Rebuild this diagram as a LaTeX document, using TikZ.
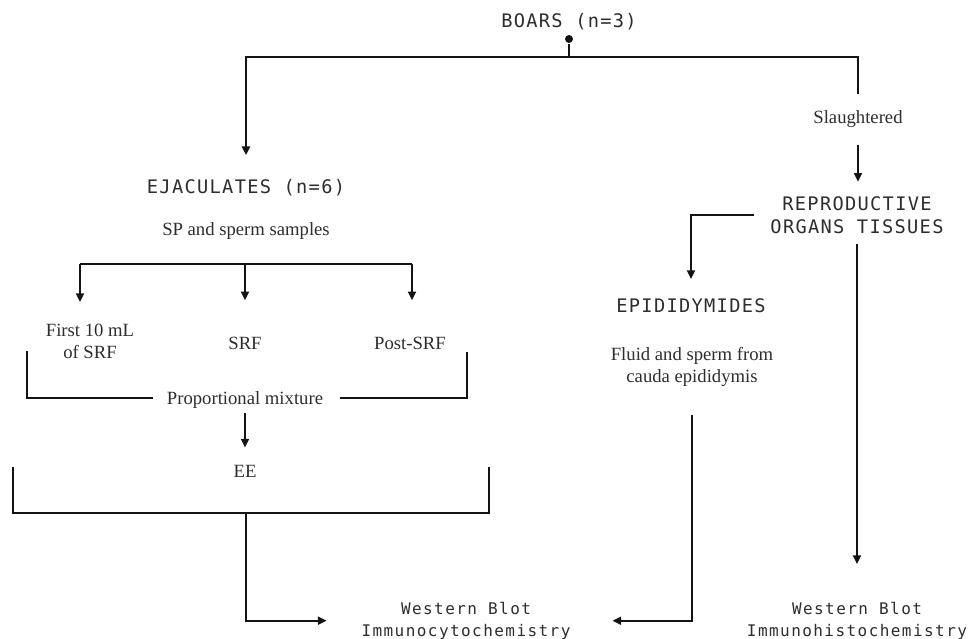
\documentclass[tikz,border=0pt]{standalone}
\usepackage{fontspec}
\setmainfont{Liberation Serif}
\newfontfamily\boxmono[LetterSpace=7]{DejaVu Sans Mono}
\newfontfamily\boxmonosm[LetterSpace=9]{DejaVu Sans Mono}
\usepackage{tikz}
\usetikzlibrary{calc,arrows.meta,positioning}
\definecolor{FlowBlack}{RGB}{20, 20, 20}
\definecolor{LabelGray}{RGB}{45, 45, 45}

\begin{document}
\begin{tikzpicture}[x=0.75pt, y=-0.75pt, line width=1.4pt, FlowBlack,
    arr/.style={-{Triangle[length=6.5pt, width=6pt]}},
    ttl/.style={font=\boxmono\fontsize{14pt}{17.25pt}\selectfont, text=LabelGray, inner sep=0pt,
        text height=10.2pt, text depth=0pt, anchor=base},
    ttlml/.style={font=\boxmono\fontsize{14pt}{17.25pt}\selectfont, text=LabelGray, inner sep=0pt, align=center},
    sml/.style={font=\boxmonosm\fontsize{12pt}{16.5pt}\selectfont, text=LabelGray, inner sep=0pt, align=center, anchor=north},
    lab/.style={font=\fontsize{14pt}{16.5pt}\selectfont, text=LabelGray, inner sep=0pt,
        text height=9.17pt, text depth=0pt, anchor=base},
    labml/.style={font=\fontsize{14pt}{16.5pt}\selectfont, text=LabelGray, inner sep=0pt, align=center, anchor=north},
    dot/.style={circle, fill, inner sep=0pt, minimum size=6pt}]
    \useasboundingbox (0,0) rectangle (972,639);

    \node[ttl] (boars) at (569,27) {BOARS (n=3)};
    \node[dot] (pin) at (569,39) {};
    \coordinate (split) at (569,57);
    \draw (pin) -- (split);

    % ejaculates branch
    \node[ttl] (ejac) at (246,193) {EJACULATES (n=6)};
    \node[lab] (sp) at (246,235) {SP and sperm samples};
    \coordinate (b1) at (80,264);
    \coordinate (b2) at (245,264);
    \coordinate (b3) at (412,264);
    \node[labml] (first) at (90,323) {First 10 mL\\of SRF};
    \node[lab] (srf) at (245,349) {SRF};
    \node[lab] (post) at (410,349) {Post-SRF};
    \node[lab] (mix) at (245,404) {Proportional mixture};
    \coordinate (brl) at (27,351);
    \coordinate (brr) at (467,352);
    \node[lab] (ee) at (245,477) {EE};
    \coordinate (bbl) at (13,467);
    \coordinate (bbr) at (489,467);
    \coordinate (bbm) at (246,513);
    \node[sml] (wbic) at (466,601) {Western Blot\\Immunocytochemistry};

    % tissues branch
    \node[lab] (slaught) at (858,123) {Slaughtered};
    \node[ttlml] (repro) at (857,215) {REPRODUCTIVE\\ORGANS TISSUES};
    \node[ttl] (epid) at (691,312) {EPIDIDYMIDES};
    \node[labml] (fluid) at (692,346) {Fluid and sperm from\\cauda epididymis};
    \node[sml] (wbih) at (857,601) {Western Blot\\Immunohistochemistry};

    \draw[arr, shorten >=17.5pt] (split) -| (ejac.north);
    \draw[shorten >=11.7pt] (split) -| (slaught.north);
    \draw[arr, shorten <=15.75pt, shorten >=10.3pt] (slaught.south) -- (slaught.south |- repro.north);
    \draw[arr, shorten <=12pt, shorten >=13.8pt] (repro.west) -| (epid.north);
    \draw[arr, shorten <=7.3pt, shorten >=27.7pt] (repro.south) -- (repro.south |- wbih.north);
    \draw[arr, shorten <=20.8pt, shorten >=30.8pt] (fluid.south) |- (wbic.east);

    \draw (b1) -- (b3);
    \foreach \b/\n/\s in {b1/first/15.75pt, b2/srf/26.7pt, b3/post/26.7pt}
        \draw[arr, shorten >=\s] (\b) -- (\b |- \n.north);
    \draw[shorten <=10pt] (mix.west) -| (brl);
    \draw[shorten <=12pt] (mix.east) -| (brr);
    \draw[arr, shorten <=6pt, shorten >=12.3pt] (mix.south) -- (ee.north);
    \draw (bbl) -- (bbl |- bbm) -- (bbr |- bbm) -- (bbr);
    \draw[arr, shorten >=25.5pt] (bbm) |- (wbic.west);
\end{tikzpicture}
\end{document}
